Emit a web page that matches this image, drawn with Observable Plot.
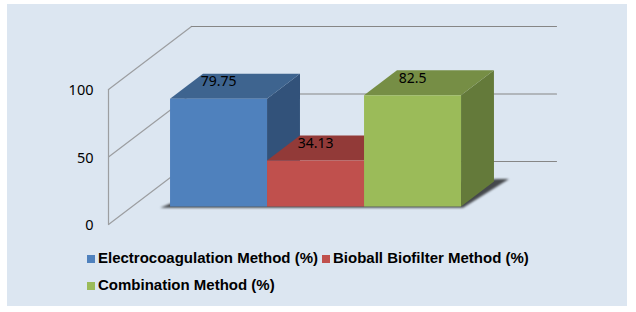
<!DOCTYPE html>
<html>
<head>
<meta charset="utf-8">
<script src="https://cdn.jsdelivr.net/npm/d3@7"></script>
<script src="https://cdn.jsdelivr.net/npm/@observablehq/plot@0.6"></script>
<style>
html,body{margin:0;padding:0;background:#fff;}
#root{position:relative;width:636px;height:312px;overflow:hidden;}
#panel{position:absolute;left:7px;top:4px;width:620px;height:302px;background:#dce6f1;}
#chart{position:absolute;left:0;top:0;}
#chart svg{background:transparent;display:block;}
#legend{position:absolute;left:87px;top:244px;width:470px;font:bold 15px "Liberation Sans",Arial,sans-serif;color:#000;line-height:27px;}
.item{display:inline-block;white-space:nowrap;margin-right:4px;}
.sw{display:inline-block;width:8px;height:8px;margin-right:3px;vertical-align:0px;}
</style>
</head>
<body>
<div id="root">
  <div id="panel"></div>
  <div id="chart"></div>
  <div id="legend"></div>
</div>
<script>
const categories = ["Electrocoagulation Method (%)", "Bioball Biofilter Method (%)", "Combination Method (%)"];
const values = [79.75, 34.13, 82.5];
const frontColors = ["#4f81bd", "#c0504d", "#9bbb59"];
const topColors = ["#3e648f", "#923a38", "#768e45"];
const sideColors = ["#32527a", "#7f3230", "#647a3a"];
const yTicks = [0, 50, 100];

// Oblique projection of (u along the floor, v up, d into the depth 0..1)
const floorLength = 3.763, kx = 83 / 97, ky = 63 / 1.35;
const barStart = 0.39, d0 = 0.2857, d1 = 0.6825;
const px = (u, d) => u + d * kx;
const py = (v, d) => v + d * ky;
const pt = (u, v, d) => ({x: px(u, d), y: py(v, d)});

const faces = [];
values.forEach((v, i) => {
  const a = barStart + i, b = a + 1;
  faces.push({fill: sideColors[i], points: [pt(b, 0, d0), pt(b, 0, d1), pt(b, v, d1), pt(b, v, d0)]});
  faces.push({fill: topColors[i], points: [pt(a, v, d0), pt(a, v, d1), pt(b, v, d1), pt(b, v, d0)]});
  faces.push({fill: frontColors[i], points: [pt(a, 0, d0), pt(a, v, d0), pt(b, v, d0), pt(b, 0, d0)]});
});

const shadow = [
  pt(barStart - 0.1, -1, d0),
  pt(barStart + 3.02, -1, d0),
  pt(barStart + 3.12, 0, d1 + 0.04),
  pt(barStart + 3.0, 0, d1 + 0.04),
  pt(barStart, 0, d0 + 0.1)
];

const wallSlants = yTicks.map(t => [pt(0, t, 0), pt(0, t, 1)]);
const backLines = yTicks.map(t => [pt(0, t, 1), pt(floorLength, t, 1)]);
const wallEdge = [pt(0, yTicks[0], 0), pt(0, yTicks[yTicks.length - 1], 0)];

const labels = values.map((v, i) => ({
  text: String(v),
  x: px(barStart + i + 0.5, d0),
  y: py(v, d0)
}));

const blurred = (index, scales, channels, dimensions, context, next) => {
  const g = next(index, scales, channels, dimensions, context);
  g.style.filter = "blur(0.8px)";
  return g;
};

const plot = Plot.plot({
  width: 636,
  height: 240,
  marginLeft: 108,
  marginRight: 163,
  marginTop: 26,
  marginBottom: 16,
  x: {domain: [0, floorLength], axis: null},
  y: {domain: [0, 100 + ky]},
  marks: [
    Plot.axisY({ticks: yTicks, tickSize: 0, tickPadding: 15, label: null, dy: 1, fontSize: 14.5, fontFamily: "'Noto Sans'", color: "#000", tickFormat: d => String(d)}),
    wallSlants.map(l => Plot.line(l, {x: "x", y: "y", stroke: "#9c9ea1", strokeWidth: 1.2})),
    Plot.line(wallEdge, {x: "x", y: "y", stroke: "#9c9ea1", strokeWidth: 1.2}),
    backLines.map(l => Plot.line(l, {x: "x", y: "y", stroke: "#868686", strokeWidth: 1.2})),
    Plot.line(shadow, {x: "x", y: "y", fill: "#45484c", stroke: "none", render: blurred}),
    faces.map(f => Plot.line(f.points, {x: "x", y: "y", fill: f.fill, stroke: "none"})),
    Plot.text(labels, {x: "x", y: "y", text: "text", dy: -17, fontSize: 14, fontFamily: "'Noto Sans'", fill: "#000"})
  ]
});
document.getElementById("chart").appendChild(plot);

const legend = document.getElementById("legend");
categories.forEach((c, i) => {
  const item = document.createElement("span");
  item.className = "item";
  const sw = document.createElement("span");
  sw.className = "sw";
  sw.style.background = frontColors[i];
  item.appendChild(sw);
  item.appendChild(document.createTextNode(c));
  legend.appendChild(item);
});
</script>
</body>
</html>
